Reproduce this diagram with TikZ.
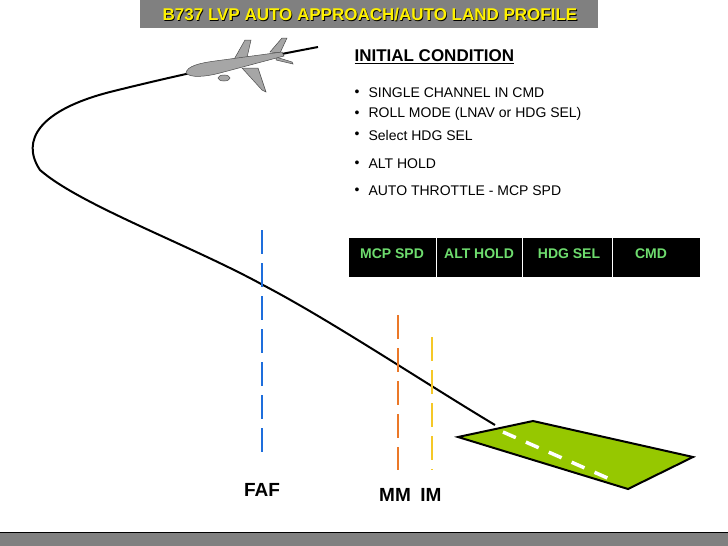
\documentclass[tikz,border=0pt]{standalone}
\usepackage{fontspec}
\setmainfont{Liberation Sans}
\begin{document}
\begin{tikzpicture}[x=1pt,y=-1pt,
  bul/.style={anchor=west,font=\fontsize{14}{16}\selectfont},
  fma/.style={font=\bfseries\fontsize{14}{16}\selectfont,text=fmagreen},
  lbl/.style={font=\bfseries\fontsize{19}{21}\selectfont}]
\definecolor{fmagreen}{RGB}{110,220,110}
\definecolor{barg}{RGB}{128,128,128}
\definecolor{rwy}{RGB}{150,200,0}
\definecolor{fafblue}{RGB}{30,110,220}
\definecolor{mmor}{RGB}{235,120,40}
\definecolor{imyel}{RGB}{245,200,40}
\useasboundingbox (0,0) rectangle (728,546);
\fill[white] (0,0) rectangle (728,546);
% title bar
\fill[barg] (140,0) rectangle (598,28);
\node[font=\bfseries\fontsize{17}{19}\selectfont,text=black] at (370.8,15.8) {B737 LVP AUTO APPROACH/AUTO LAND PROFILE};
\node (title) [font=\bfseries\fontsize{17}{19}\selectfont,text=yellow] at (370,15) {B737 LVP AUTO APPROACH/AUTO LAND PROFILE};
% bottom bar
\fill[barg] (0,532) rectangle (728,546);
\draw[black,line width=0.8] (0,532) -- (728,532);
% flight path
\coordinate (td) at (495,425);
\coordinate (pl) at (318,47);
\draw[line width=2] (td) .. controls (420,380) and (330,320) .. (263,285)
  .. controls (190,245) and (80,205) .. (40,170)
  .. controls (20,140) and (40,110) .. (110,92)
  .. controls (190,72) and (260,58) .. (pl);
% airplane
\begin{scope}[fill=gray!70,draw=black!70,line width=0.5]
\filldraw (232,63) -- (245,40) -- (251,40) -- (246,62) -- cycle; % upper wing
\filldraw (242,68) -- (262,90) -- (266,92) -- (258,68) -- cycle; % lower wing
\filldraw (270,52) -- (282,38) -- (287,38) -- (280,53) -- cycle; % fin
\filldraw (276,57) -- (292,62) -- (293,64) -- (276,60) -- cycle; % stab
\filldraw (186,73) .. controls (187,66) and (200,63) .. (215,61) -- (282,52) -- (284,56)
  -- (220,73) .. controls (205,77) and (190,78) .. (186,73) -- cycle;
\filldraw (224,78) ellipse (6 and 3);
\end{scope}
% markers
\draw[fafblue,line width=2,dash pattern=on 24 off 9] (262,230) -- (262,455) coordinate (fafb);
\draw[mmor,line width=2,dash pattern=on 24 off 9] (398,315) -- (398,470) coordinate (mmb);
\draw[imyel,line width=2,dash pattern=on 24 off 9] (432,337) -- (432,470) coordinate (imb);
\node (faf) [lbl] at (262,490) {FAF};
\node (mm) [lbl] at (395,495) {MM};
\node (im) [lbl] at (431,495) {IM};
% runway
\filldraw[fill=rwy,draw=black,line width=2] (458,437) -- (533,421) -- (693,457) -- (628,489) -- cycle;
\draw[white,line width=3.5,dash pattern=on 14 off 11] (503,432) -- (612,480);
% text
\node (ic) [anchor=west,font=\bfseries\fontsize{17}{19}\selectfont] at (351,57) {\underline{INITIAL CONDITION}};
\foreach \y/\t in {93/SINGLE CHANNEL IN CMD,114/ROLL MODE (LNAV or HDG SEL),135/Select HDG SEL,164/ALT HOLD,191/AUTO THROTTLE - MCP SPD}{
  \node[bul] at (351,\y) {\textbullet};
  \node[bul] at (365,\y) {\t};
}
% FMA
\fill[black] (349,238) rectangle (700,277);
\draw[white,line width=0.8] (436,238) -- (436,277) (522,238) -- (522,277) (612,238) -- (612,277);
\node (f1) [fma] at (392,254) {MCP SPD};
\node (f2) [fma] at (479,254) {ALT HOLD};
\node (f3) [fma] at (569,254) {HDG SEL};
\node (f4) [fma] at (651,254) {CMD};
\end{tikzpicture}
\end{document}
